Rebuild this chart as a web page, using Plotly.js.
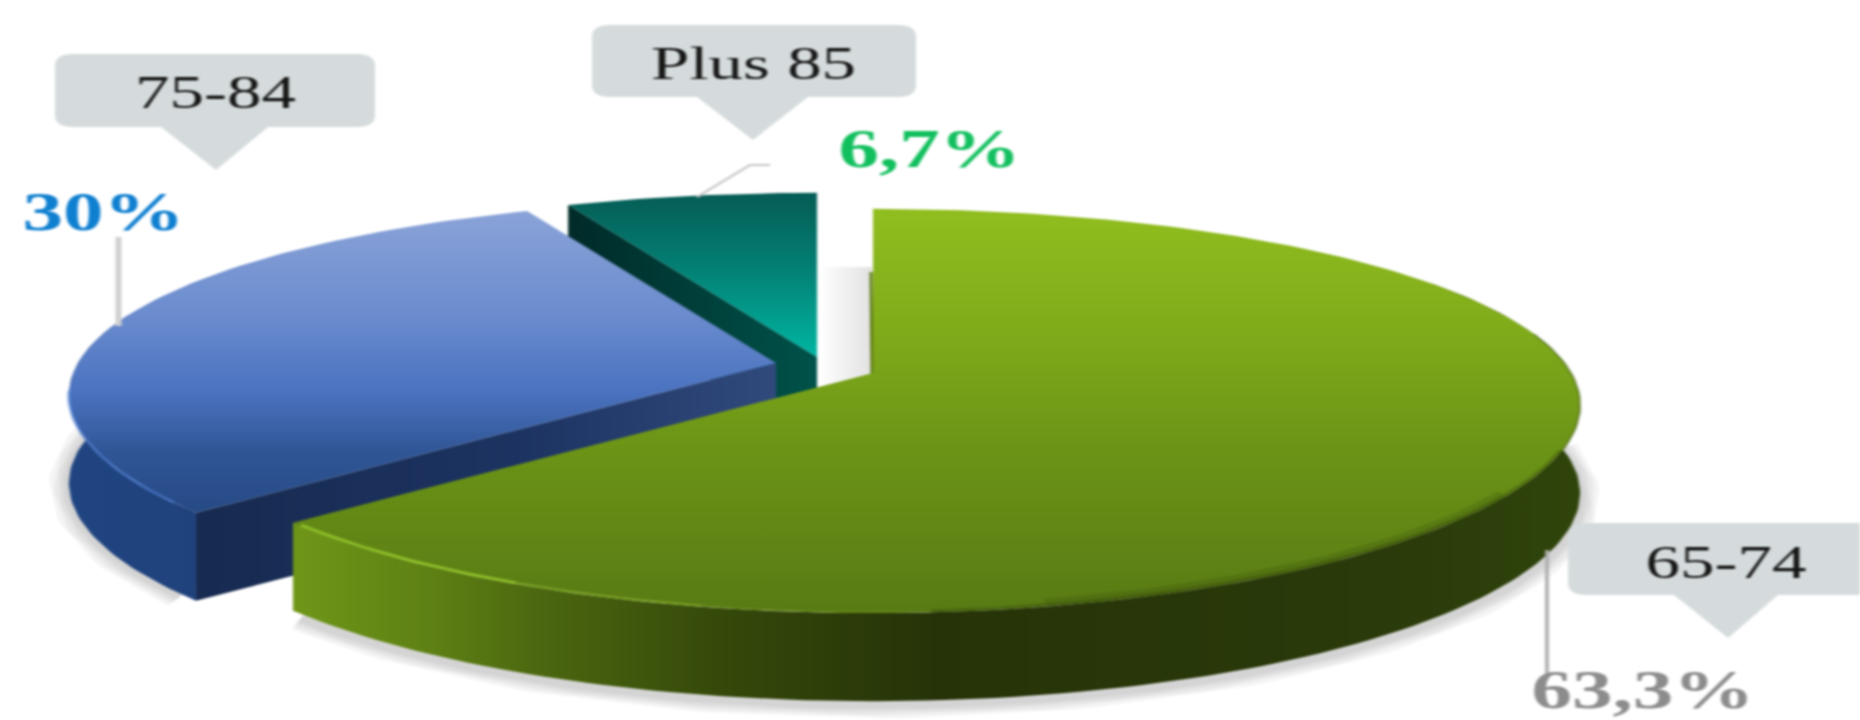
<!DOCTYPE html>
<html>
<head>
<meta charset="utf-8">
<script src="https://cdn.plot.ly/plotly-3.0.1.min.js"></script>
<style>
html,body{margin:0;padding:0;background:#fff;overflow:hidden;width:1860px;height:720px}
#chart{width:1240px;height:720px;transform:scaleX(1.5);transform-origin:0 0;filter:blur(0.9px)}
</style>
</head>
<body>
<div id="chart"></div>
<script>
// ---- data ----
var categories = ["65-74", "75-84", "Plus 85"];
var shares = [63.3, 30, 6.7];
var shareLabels = ["63,3%", "30%", "6,7%"];

// ---- projection of the tilted disc (pixels of the 1860x720 picture) ----
var A = 698, B = 195, KX = 0.16, KY = 0.188, DEPTH = 88;
var centers = [[873, 373], [776, 363], [817, 357]];

function pt(c, deg, dy) {
  var t = deg * Math.PI / 180;
  return [c[0] + A * Math.sin(t) / (1 + KX * Math.cos(t)),
          c[1] - B * Math.cos(t) / (1 + KY * Math.cos(t)) + (dy || 0)];
}
function arc(c, a0, a1, dy) {
  var n = Math.max(2, Math.ceil(Math.abs(a1 - a0) / 1.2)), out = [];
  for (var i = 0; i <= n; i++) out.push(pt(c, a0 + (a1 - a0) * i / n, dy));
  return out;
}
var total = shares.reduce(function (s, v) { return s + v; }, 0);
var bounds = [0];
shares.forEach(function (v, i) { bounds.push(bounds[i] + v / total * 360); });

var traces = [];
function poly(points, type, scale) {
  // the y axis runs downward, so top-to-bottom stops are flipped for a vertical gradient
  var cs = type === "vertical"
    ? scale.map(function (s) { return [1 - s[0], s[1]]; }).reverse()
    : scale;
  traces.push({
    type: "scatter", mode: "lines", hoverinfo: "skip", showlegend: false,
    x: points.map(function (p) { return p[0]; }),
    y: points.map(function (p) { return p[1]; }),
    fill: "toself", line: { width: 0 }, fillcolor: scale[0][1],
    fillgradient: { type: type, colorscale: cs }
  });
}
function stroke(points, color, width) {
  traces.push({
    type: "scatter", mode: "lines", hoverinfo: "skip", showlegend: false,
    x: points.map(function (p) { return p[0]; }),
    y: points.map(function (p) { return p[1]; }),
    line: { color: color, width: width }
  });
}
function softShadow(points) {
  [26, 20, 14, 8].forEach(function (w) { stroke(points, "rgba(0,0,0,0.045)", w); });
}
function sector(c, a0, a1) { return [c].concat(arc(c, a0, a1)).concat([c]); }
function rimWall(c, a0, a1) { return arc(c, a0, a1).concat(arc(c, a1, a0, DEPTH)); }
function cutWall(c, a) {
  var r = pt(c, a);
  return [c, r, [r[0], r[1] + DEPTH], [c[0], c[1] + DEPTH], c];
}

var g = centers[0], b = centers[1], t = centers[2];

// ground shadows
softShadow(arc(g, 85, bounds[1] - 1, DEPTH + 4));
softShadow(arc(b, bounds[1] + 2, 285, DEPTH + 2));

// gap shade between the teal and green slices
poly([[820, 267], [872, 267], [872, 376], [820, 395], [820, 267]], "horizontal",
  [[0, "#ffffff"], [0.35, "#f4f4f4"], [1, "#e2e2e2"]]);
stroke([[871, 272], [872, 376]], "#5d7a14", 2);

// teal slice
poly(cutWall(t, bounds[2]), "horizontal", [[0, "#002a28"], [1, "#00524a"]]);
poly(sector(t, bounds[2], bounds[3]), "vertical",
  [[0, "#055c55"], [0.45, "#037f73"], [1, "#00b5a2"]]);

// blue slice
poly(rimWall(b, bounds[1], 285), "horizontal", [[0, "#1f4480"], [1, "#20427c"]]);
poly(cutWall(b, bounds[1]), "horizontal",
  [[0, "#172a50"], [0.55, "#1c3361"], [1, "#304a7c"]]);
poly(sector(b, bounds[1], bounds[2]), "vertical",
  [[0, "#8aa3d8"], [0.35, "#6a8bce"], [0.6, "#4a72bf"], [0.8, "#305595"], [1, "#264a85"]]);
stroke(arc(b, bounds[1] + 3, 262), "rgba(80,130,215,0.55)", 2.5);

// green slice
poly(rimWall(g, 60, bounds[1]), "horizontal",
  [[0, "#6f9618"], [0.1, "#5f8214"], [0.2, "#4a650f"], [0.33, "#35490a"],
   [0.5, "#263308"], [0.85, "#2a3a0a"], [1, "#2f440b"]]);
poly(sector(g, bounds[0], bounds[1]), "vertical",
  [[0, "#90bd1e"], [0.3, "#7fab1a"], [0.6, "#6b9316"], [1, "#587a14"]]);
stroke(arc(g, 125, 168, -4), "rgba(38,52,8,0.16)", 8);
stroke(arc(g, 112, 176, -1), "rgba(38,52,8,0.3)", 4);
stroke(arc(g, 78, 112), "rgba(70,95,15,0.55)", 1.5);
stroke(arc(g, 178, 192, -1), "rgba(150,195,50,0.2)", 1.5);
stroke(arc(g, 192, 206, -1), "rgba(150,195,50,0.42)", 2.5);
stroke(arc(g, 206, bounds[1] - 1, -1), "rgba(155,205,45,0.75)", 3);

// ---- call-outs, leader lines, labels ----
function callout(x0, x1, y0, y1, p0, p1, tipX, tipY) {
  var r = 12, rx = 18;
  return "M" + (x0 + rx) + "," + y0 + " L" + (x1 - rx) + "," + y0 +
    " Q" + x1 + "," + y0 + " " + x1 + "," + (y0 + r) +
    " L" + x1 + "," + (y1 - r) + " Q" + x1 + "," + y1 + " " + (x1 - rx) + "," + y1 +
    " L" + p1 + "," + y1 + " L" + tipX + "," + tipY + " L" + p0 + "," + y1 +
    " L" + (x0 + rx) + "," + y1 + " Q" + x0 + "," + y1 + " " + x0 + "," + (y1 - r) +
    " L" + x0 + "," + (y0 + r) + " Q" + x0 + "," + y0 + " " + (x0 + rx) + "," + y0 + " Z";
}
var boxStyle = { type: "path", xref: "x", yref: "y", fillcolor: "#d5dbdc", line: { width: 0 }, layer: "above" };
var shapes = [
  Object.assign({ path: callout(1568, 1900, 523, 595, 1674, 1778, 1728, 638) }, boxStyle),
  Object.assign({ path: callout(55, 375, 54, 127, 161, 268, 216, 170) }, boxStyle),
  Object.assign({ path: callout(592, 916, 25, 97, 697, 808, 753, 140) }, boxStyle),
  { type: "line", xref: "x", yref: "y", x0: 1547, x1: 1547, y0: 550, y1: 676, line: { color: "#adadad", width: 2.5 } },
  { type: "line", xref: "x", yref: "y", x0: 118.5, x1: 118.5, y0: 237, y1: 326, line: { color: "#d0d0d0", width: 4 } },
  { type: "path", xref: "x", yref: "y", path: "M697,197 L750,165 L770,165", line: { color: "#c8c8c8", width: 2 } }
];
function label(text, x, y, color, bold) {
  return {
    text: bold ? "<b>" + text + "</b>" : text, x: x, y: y, xref: "x", yref: "y",
    showarrow: false, xanchor: "center", yanchor: "middle",
    font: { family: "Liberation Serif", size: bold ? 54 : 46, color: color }
  };
}
var annotations = [
  label(categories[0], 1725, 562, "#141414"),
  label(categories[1], 215, 92, "#141414"),
  label(categories[2], 754, 63, "#141414"),
  label(shareLabels[0], 1643, 690, "#8c8c8c", true),
  label(shareLabels[1], 103, 212, "#0f7fd0", true),
  label(shareLabels[2], 930, 149, "#12bf5e", true)
];

Plotly.newPlot("chart", traces, {
  width: 1240, height: 720, autosize: false,
  margin: { l: 0, r: 0, t: 0, b: 0 },
  paper_bgcolor: "#ffffff", plot_bgcolor: "#ffffff", showlegend: false,
  xaxis: { range: [0, 1860], visible: false, fixedrange: true },
  yaxis: { range: [720, 0], visible: false, fixedrange: true },
  shapes: shapes, annotations: annotations
}, { displayModeBar: false, staticPlot: true });
</script>
</body>
</html>
